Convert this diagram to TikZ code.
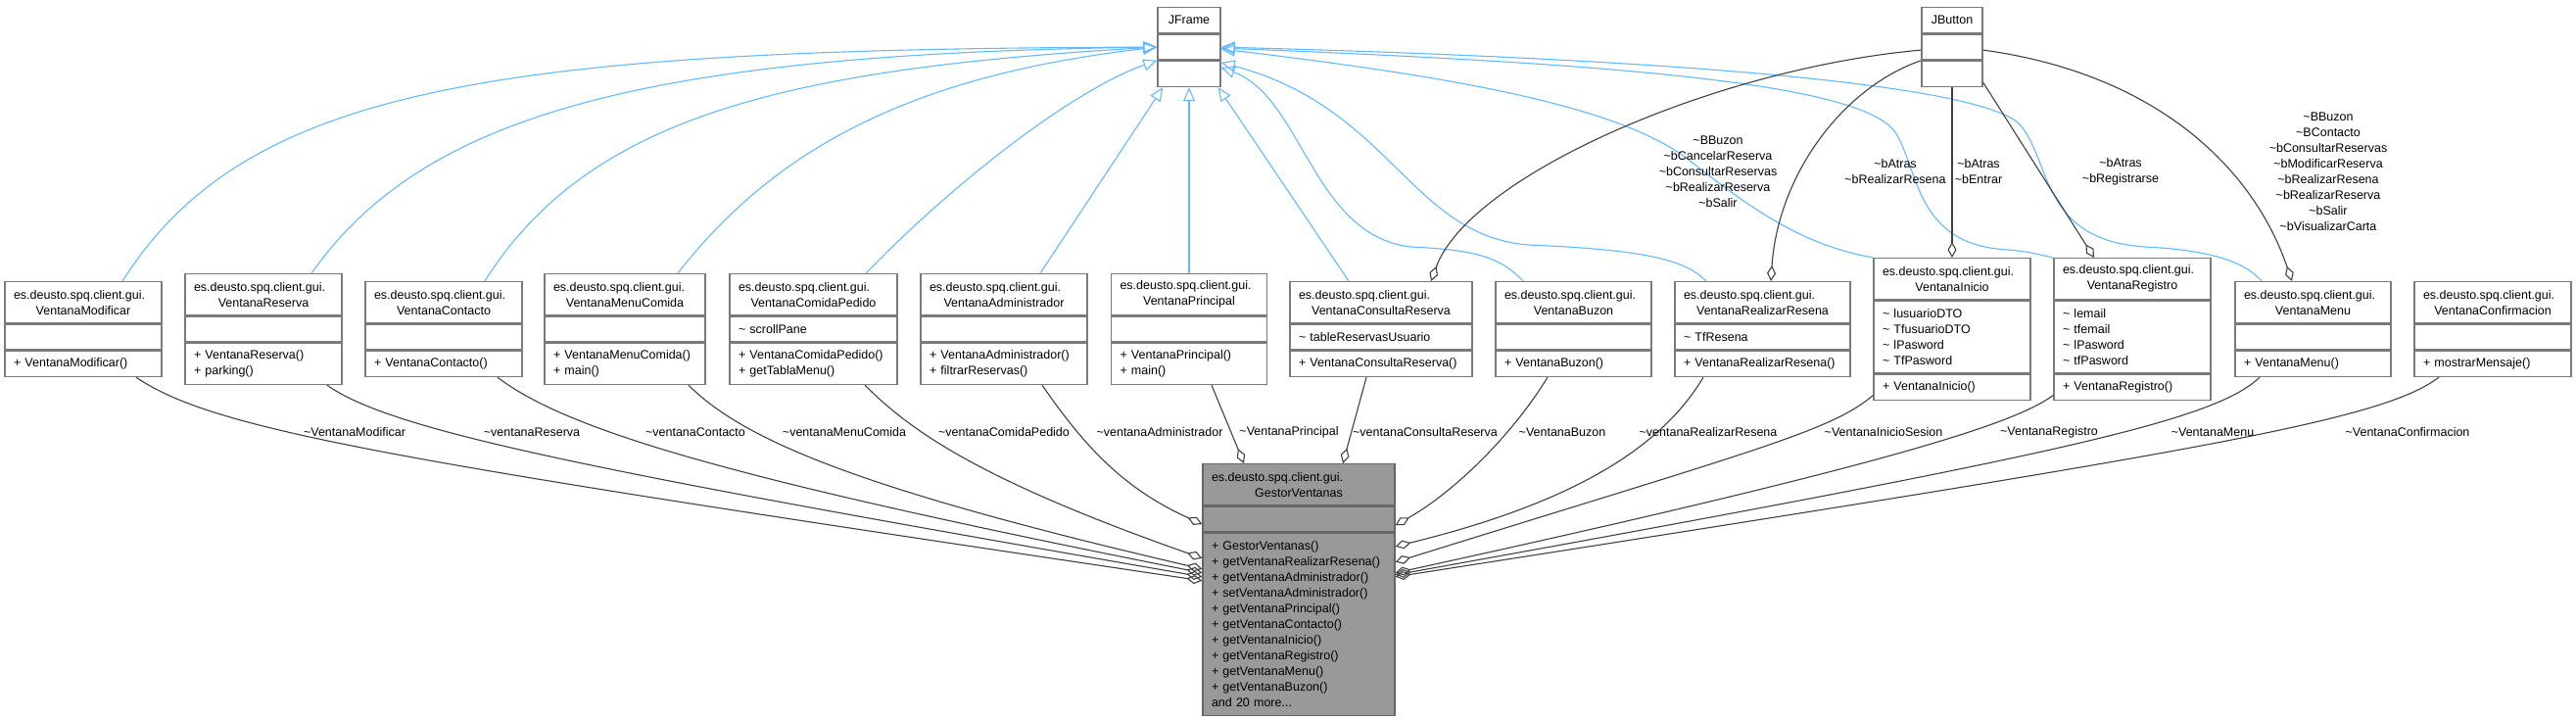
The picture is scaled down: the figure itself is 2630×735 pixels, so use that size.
\documentclass[tikz,border=0pt]{standalone}
\usepackage{fontspec}
\setmainfont{Liberation Sans}
\usetikzlibrary{arrows.meta, positioning}
\definecolor{boxline}{HTML}{7A7A7A}
\definecolor{rootfill}{HTML}{999999}
\definecolor{rootline}{HTML}{666666}
\definecolor{inherit}{HTML}{63B8FF}
\definecolor{member}{HTML}{404040}
\newcommand{\tld}{\textasciitilde}
\newcommand{\pkgname}{\noindent\hbox to\linewidth{es.deusto.spq.client.gui.\hfil}}
\tikzset{
  cls/.style={
    draw=boxline, fill=white, line width=1.4pt,
    inner xsep=9pt, inner ysep=0pt, minimum height=26pt,
    font=\fontsize{12.5}{16}\selectfont
  },
  clshead/.style={cls, align=center, anchor=north, minimum height=42pt},
  clspart/.style={cls, align=left},
  root/.style={fill=rootfill, draw=rootline},
  isa/.style={-{Triangle[open, length=14pt, width=12pt]}, line width=1.1pt, draw=inherit},
  hasa/.style={-{Diamond[open, length=16pt, width=9pt]}, line width=1.1pt, draw=member},
  elabel/.style={font=\fontsize{12.5}{16}\selectfont, align=center, inner sep=0pt},
}

\begin{document}
\begin{tikzpicture}[x=1pt, y=-1pt]
  \useasboundingbox (0,0) rectangle (2630,735);

  % base classes
  \node[clshead, minimum height=26pt, text width=46pt] (jfH) at (1214,7) {JFrame};
  \node[clspart, text width=46pt, below=0pt of jfH] (jfA) {};
  \node[clspart, text width=46pt, below=0pt of jfA] (jfM) {};
  \node[clshead, minimum height=26pt, text width=44pt] (jbH) at (1993,7) {JButton};
  \node[clspart, text width=44pt, below=0pt of jbH] (jbA) {};
  \node[clspart, text width=44pt, below=0pt of jbA] (jbM) {};

  % windows
  \node[clshead, text width=142pt] (modH) at (85,287) {\pkgname\\VentanaModificar};
  \node[clspart, text width=142pt, below=0pt of modH] (modA) {};
  \node[clspart, text width=142pt, below=0pt of modA] (modM) {+ VentanaModificar()};

  \node[clshead, text width=142pt] (resH) at (269,279) {\pkgname\\VentanaReserva};
  \node[clspart, text width=142pt, below=0pt of resH] (resA) {};
  \node[clspart, text width=142pt, minimum height=42pt, below=0pt of resA] (resM) {+ VentanaReserva()\\+ parking()};

  \node[clshead, text width=142pt] (conH) at (453,287) {\pkgname\\VentanaContacto};
  \node[clspart, text width=142pt, below=0pt of conH] (conA) {};
  \node[clspart, text width=142pt, below=0pt of conA] (conM) {+ VentanaContacto()};

  \node[clshead, text width=146pt] (mcomH) at (638,279) {\pkgname\\VentanaMenuComida};
  \node[clspart, text width=146pt, below=0pt of mcomH] (mcomA) {};
  \node[clspart, text width=146pt, minimum height=42pt, below=0pt of mcomA] (mcomM) {+ VentanaMenuComida()\\+ main()};

  \node[clshead, text width=153pt] (cpedH) at (830.5,279) {\pkgname\\VentanaComidaPedido};
  \node[clspart, text width=153pt, below=0pt of cpedH] (cpedA) {\tld{} scrollPane};
  \node[clspart, text width=153pt, minimum height=42pt, below=0pt of cpedA] (cpedM) {+ VentanaComidaPedido()\\+ getTablaMenu()};

  \node[clshead, text width=152pt] (admH) at (1025,279) {\pkgname\\VentanaAdministrador};
  \node[clspart, text width=152pt, below=0pt of admH] (admA) {};
  \node[clspart, text width=152pt, minimum height=42pt, below=0pt of admA] (admM) {+ VentanaAdministrador()\\+ filtrarReservas()};

  \node[clshead, text width=141pt] (prinH) at (1214,279) {\pkgname\\VentanaPrincipal};
  \node[clspart, text width=141pt, below=0pt of prinH] (prinA) {};
  \node[clspart, text width=141pt, minimum height=42pt, below=0pt of prinA] (prinM) {+ VentanaPrincipal()\\+ main()};

  \node[clshead, text width=168pt] (cresH) at (1410,287) {\pkgname\\VentanaConsultaReserva};
  \node[clspart, text width=168pt, below=0pt of cresH] (cresA) {\tld{} tableReservasUsuario};
  \node[clspart, text width=168pt, below=0pt of cresA] (cresM) {+ VentanaConsultaReserva()};

  \node[clshead, text width=141pt] (buzH) at (1606.5,287) {\pkgname\\VentanaBuzon};
  \node[clspart, text width=141pt, below=0pt of buzH] (buzA) {};
  \node[clspart, text width=141pt, below=0pt of buzA] (buzM) {+ VentanaBuzon()};

  \node[clshead, text width=161pt] (rresH) at (1799.5,287) {\pkgname\\VentanaRealizarResena};
  \node[clspart, text width=161pt, below=0pt of rresH] (rresA) {\tld{} TfResena};
  \node[clspart, text width=161pt, below=0pt of rresA] (rresM) {+ VentanaRealizarResena()};

  \node[clshead, text width=142pt] (iniH) at (1993,263) {\pkgname\\VentanaInicio};
  \node[clspart, text width=142pt, minimum height=74pt, below=0pt of iniH] (iniA)
    {\tld{} lusuarioDTO\\\tld{} TfusuarioDTO\\\tld{} lPasword\\\tld{} TfPasword};
  \node[clspart, text width=142pt, below=0pt of iniA] (iniM) {+ VentanaInicio()};

  \node[clshead, text width=142pt] (regH) at (2177,263) {\pkgname\\VentanaRegistro};
  \node[clspart, text width=142pt, minimum height=74pt, below=0pt of regH] (regA)
    {\tld{} lemail\\\tld{} tfemail\\\tld{} lPasword\\\tld{} tfPasword};
  \node[clspart, text width=142pt, below=0pt of regA] (regM) {+ VentanaRegistro()};

  \node[clshead, text width=141pt] (menuH) at (2361.5,287) {\pkgname\\VentanaMenu};
  \node[clspart, text width=141pt, below=0pt of menuH] (menuA) {};
  \node[clspart, text width=141pt, below=0pt of menuA] (menuM) {+ VentanaMenu()};

  \node[clshead, text width=142pt] (confH) at (2545,287) {\pkgname\\VentanaConfirmacion};
  \node[clspart, text width=142pt, below=0pt of confH] (confA) {};
  \node[clspart, text width=142pt, below=0pt of confA] (confM) {+ mostrarMensaje()};

  % manager
  \node[clshead, root, text width=178pt] (gvH) at (1326,473) {\pkgname\\GestorVentanas};
  \node[clspart, root, text width=178pt, below=0pt of gvH] (gvA) {};
  \node[clspart, root, text width=178pt, minimum height=186pt, below=0pt of gvA] (gvM)
    {+ GestorVentanas()\\+ getVentanaRealizarResena()\\+ getVentanaAdministrador()\\
     + setVentanaAdministrador()\\+ getVentanaPrincipal()\\+ getVentanaContacto()\\
     + getVentanaInicio()\\+ getVentanaRegistro()\\+ getVentanaMenu()\\
     + getVentanaBuzon()\\and 20 more...};

  % inheritance
  \draw[isa] ([xshift=40pt]modH.north) .. controls (250,90) and (500,50) .. (jfA.west);
  \draw[isa] ([xshift=49pt]resH.north) .. controls (430,120) and (650,55) .. (jfA.west);
  \draw[isa] ([xshift=42pt]conH.north) .. controls (600,120) and (800,70) .. (jfA.west);
  \draw[isa] ([xshift=54pt]mcomH.north) .. controls (800,140) and (950,75) .. (jfA.west);
  \draw[isa] ([xshift=53.5pt]cpedH.north) .. controls (980,180) and (1100,90) .. (jfM.north west);
  \draw[isa] ([xshift=37pt]admH.north) -- ([xshift=6pt]jfM.south west);
  \draw[isa] (prinH.north) -- (jfM.south);
  \draw[isa] ([xshift=-33pt]cresH.north) -- ([xshift=-3pt]jfM.south east);
  \draw[isa] ([xshift=-51.5pt]buzH.north) .. controls (1530,260) and (1500,255) .. (1440,252)
    .. controls (1340,240) and (1330,100) .. ([yshift=-7pt]jfM.north east);
  \draw[isa] ([xshift=-57.5pt]rresH.north) .. controls (1720,265) and (1680,255) .. (1560,250)
    .. controls (1440,240) and (1420,110) .. ([yshift=-2pt]jfM.north east);
  \draw[isa] (iniH.north west) .. controls (1840,250) and (1790,215) .. (1720,160)
    .. controls (1650,110) and (1500,80) .. ([yshift=-2pt]jfA.east);
  \draw[isa] (regH.north west) .. controls (2090,262) and (2075,257) .. (2050,255)
    .. controls (1955,250) and (1960,175) .. (1935,135)
    .. controls (1900,85) and (1650,65) .. ([yshift=-1pt]jfA.east);
  \draw[isa] ([xshift=-52.5pt]menuH.north) .. controls (2290,265) and (2250,255) .. (2190,252)
    .. controls (2080,245) and (2095,160) .. (2060,125)
    .. controls (2010,85) and (1700,60) .. (jfA.east);

  % buttons held by the windows
  \draw[hasa] ([yshift=-3pt]jbA.west) .. controls (1750,70) and (1500,180) .. ([xshift=51pt]cresH.north);
  \draw[hasa] (jbM.north west) .. controls (1880,90) and (1815,180) .. ([xshift=8.5pt]rresH.north);
  \draw[hasa] (jbM.south) -- (iniH.north);
  \draw[hasa] ([yshift=5pt]jbM.south east) -- ([xshift=-39pt]regH.north);
  \draw[hasa] ([yshift=-3pt]jbA.east) .. controls (2200,75) and (2300,170) .. ([xshift=-21.5pt]menuH.north);

  \node[elabel] (lbCres) at (1754,175)
    {\tld BBuzon\\\tld bCancelarReserva\\\tld bConsultarReservas\\\tld bRealizarReserva\\\tld bSalir};
  \node[elabel] (lbRres) at (1935,175) {\tld bAtras\\\tld bRealizarResena};
  \node[elabel] (lbIni) at (2020,175) {\tld bAtras\\\tld bEntrar};
  \node[elabel] (lbReg) at (2165,175) {\tld bAtras\\\tld bRegistrarse};
  \node[elabel] (lbMenu) at (2377,175)
    {\tld BBuzon\\\tld BContacto\\\tld bConsultarReservas\\\tld bModificarReserva\\
     \tld bRealizarResena\\\tld bRealizarReserva\\\tld bSalir\\\tld bVisualizarCarta};

  % windows held by the manager
  \draw[hasa] ([xshift=54pt]modM.south) .. controls (220,440) and (400,470) .. ([yshift=-49pt]gvM.north west);
  \draw[hasa] ([xshift=65pt]resM.south) .. controls (400,440) and (600,480) .. ([yshift=-45pt]gvM.north west);
  \draw[hasa] ([xshift=55pt]conM.south) .. controls (580,440) and (750,490) .. ([yshift=-41pt]gvM.north west);
  \draw[hasa] ([xshift=65pt]mcomM.south) .. controls (760,450) and (880,500) .. ([yshift=-37pt]gvM.north west);
  \draw[hasa] ([xshift=52.5pt]cpedM.south) .. controls (930,440) and (1000,490) .. ([yshift=-26pt]gvM.north west);
  \draw[hasa] ([xshift=39pt]admM.south) .. controls (1110,460) and (1150,500) .. ([yshift=-5pt]gvA.west);
  \draw[hasa] ([xshift=23pt]prinM.south) -- ([xshift=-56pt]gvH.north);
  \draw[hasa] ([xshift=-15pt]cresM.south) -- ([xshift=45pt]gvH.north);
  \draw[hasa] ([xshift=-26.5pt]buzM.south) .. controls (1540,450) and (1480,505) .. ([yshift=-6pt]gvA.east);
  \draw[hasa] ([xshift=-60.5pt]rresM.south) .. controls (1700,450) and (1620,510) .. ([yshift=-14pt]gvM.north east);
  \draw[hasa] ([yshift=-8pt]iniM.west) .. controls (1870,440) and (1790,460) .. ([yshift=-30pt]gvM.north east);
  \draw[hasa] ([yshift=-8pt]regM.west) .. controls (2060,430) and (1950,470) .. ([yshift=-41pt]gvM.north east);
  \draw[hasa] ([xshift=-54.5pt]menuM.south) .. controls (2260,430) and (2100,465) .. ([yshift=-43pt]gvM.north east);
  \draw[hasa] ([xshift=-55pt]confM.south) .. controls (2430,430) and (2250,460) .. ([yshift=-45pt]gvM.north east);

  \foreach \n/\x/\t in {mod/362/VentanaModificar, res/543/ventanaReserva, con/710/ventanaContacto,
      mcom/862/ventanaMenuComida, cped/1025/ventanaComidaPedido, adm/1184/ventanaAdministrador,
      prin/1316/VentanaPrincipal, cres/1455/ventanaConsultaReserva, buz/1595/VentanaBuzon,
      rres/1744/ventanaRealizarResena, ini/1923/VentanaInicioSesion, reg/2092/VentanaRegistro,
      menu/2259/VentanaMenu, conf/2458/VentanaConfirmacion}
    \node[elabel] (l\n) at (\x,441) {\tld\t};
\end{tikzpicture}
\end{document}
